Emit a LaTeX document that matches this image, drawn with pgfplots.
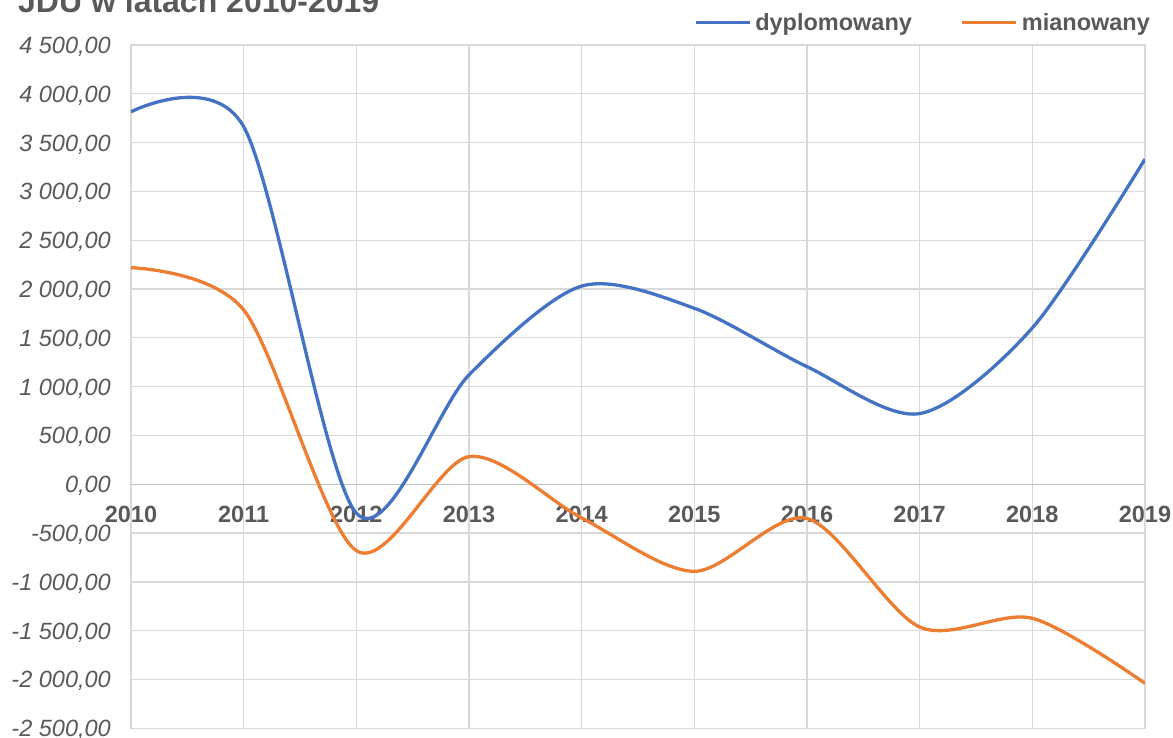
\documentclass[border=0pt]{standalone}
\usepackage{fontspec}
\setmainfont{Liberation Sans}
\usepackage{pgfplots}
\pgfplotsset{compat=1.18}
\definecolor{textgrey}{HTML}{595959}
\definecolor{gridgrey}{HTML}{D9D9D9}
\definecolor{zerogrey}{HTML}{BFBFBF}
\definecolor{cblue}{HTML}{4472C4}
\definecolor{corange}{HTML}{ED7D31}
\begin{document}
\begin{tikzpicture}
\useasboundingbox (-131pt,-8.7pt) rectangle (1042pt,728.3pt);
\clip (-131pt,-8.7pt) rectangle (1042pt,728.3pt);
\begin{axis}[
  at={(0pt,0pt)}, anchor=south west,
  scale only axis, width=1014pt, height=683.3pt,
  xmin=2010, xmax=2019, ymin=-2500, ymax=4500,
  xtick={2010,2011,...,2019},
  xticklabels={2010,2011,2012,2013,2014,2015,2016,2017,2018,2019},
  ytick={-2500,-2000,...,4500},
  yticklabels={{-2 500,00},{-2 000,00},{-1 500,00},{-1 000,00},{-500,00},{0,00},{500,00},{1 000,00},{1 500,00},{2 000,00},{2 500,00},{3 000,00},{3 500,00},{4 000,00},{4 500,00}},
  grid=major,
  grid style={color=gridgrey, line width=1.3pt},
  axis line style={color=gridgrey, line width=1.3pt},
  major tick length=0pt,
  extra y ticks={0},
  extra y tick labels={},
  extra y tick style={grid style={color=zerogrey, line width=1.3pt}},
  xticklabel style={font=\fontsize{23.5}{28}\selectfont\bfseries, text=textgrey, inner sep=0pt, anchor=base, yshift=205.6pt},
  yticklabel style={font=\fontsize{23.5}{28}\selectfont\itshape, text=textgrey, inner sep=0pt, anchor=base east, xshift=-20pt, yshift=-8.4pt},
  legend columns=2,
  legend style={draw=none, fill=none, inner sep=0pt, outer sep=0pt,
    at={(axis description cs:0.5552,1.0322)}, anchor=west,
    font=\fontsize{23.5}{28}\selectfont\bfseries, text=textgrey,
    nodes={inner sep=0pt},
    /tikz/every odd column/.append style={column sep=4pt},
    /tikz/every even column/.append style={column sep=48.7pt}},
  legend image code/.code={\draw[#1, line width=3.3pt] (0pt,0.3pt) -- (54pt,0.3pt);},
]
\addplot[cblue, line width=3.3pt, smooth, tension=0.5, line join=round] coordinates {
(2010,3816) (2011,3664) (2012,-295) (2013,1120) (2014,2030) (2015,1803) (2016,1205) (2017,724) (2018,1601) (2019,3330)};
\addlegendentry{dyplomowany}
\addplot[corange, line width=3.3pt, smooth, tension=0.5, line join=round] coordinates {
(2010,2219) (2011,1786) (2012,-680) (2013,283) (2014,-345) (2015,-892) (2016,-350) (2017,-1462) (2018,-1373) (2019,-2039)};
\addlegendentry{mianowany}
\end{axis}
\node[anchor=base west, inner sep=0pt, font=\fontsize{32}{38}\selectfont\bfseries, text=textgrey] at (-113pt,715.6pt) {JDU w latach 2010-2019};
\end{tikzpicture}
\end{document}
